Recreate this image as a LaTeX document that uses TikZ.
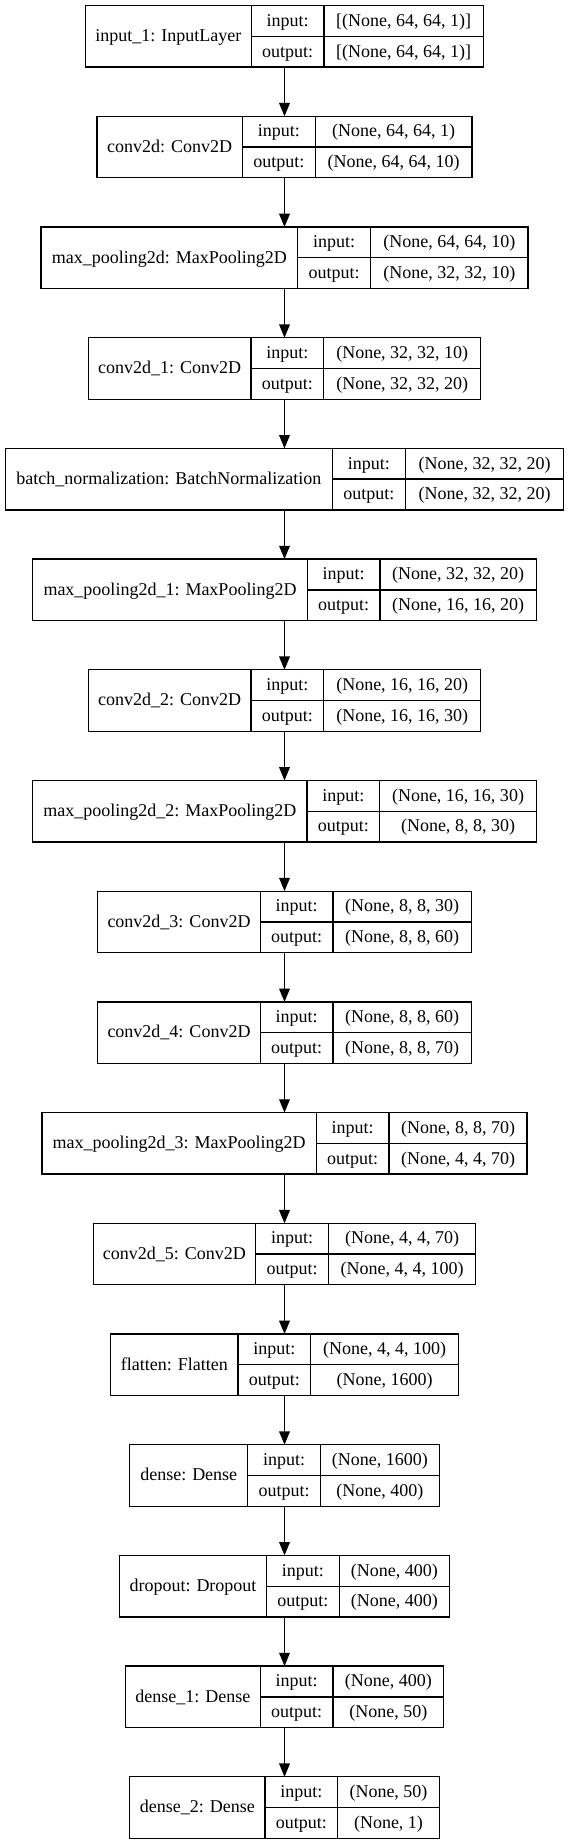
\documentclass[tikz,border=0pt]{standalone}
\usepackage{fontspec}
\setmainfont{Liberation Serif}
\usetikzlibrary{arrows.meta}
\tikzset{
  layerbox/.style={draw=black, line width=1pt, inner sep=0pt, outer sep=0pt, minimum height=46.125pt},
  cellline/.style={draw=black, line width=1pt},
  celltext/.style={inner sep=0pt, anchor=base, font=\fontsize{13.5}{16}\selectfont},
  flow/.style={draw=black, line width=1pt, -{Triangle[length=10pt,width=8pt]}}
}
% #1 id, #2 index, #3 half width (px), #4 first divider x (px), #5 name, #6 input, #7 output
\newcommand{\nnlayer}[7]{%
  \pgfmathsetmacro{\LYc}{5.6+#2*110.7+30.75}%
  \pgfmathsetmacro{\LXl}{284.5-#3}%
  \pgfmathsetmacro{\LXr}{284.5+#3}%
  \pgfmathsetmacro{\LDa}{#4}%
  \pgfmathsetmacro{\LDb}{#4+72.8}%
  \pgfmathsetmacro{\LWd}{2*#3*0.75}%
  \node[layerbox, minimum width=\LWd pt] (#1) at (284.5,\LYc) {};
  \draw[cellline] (\LDa,\LYc-30.75) -- (\LDa,\LYc+30.75);
  \draw[cellline] (\LDb,\LYc-30.75) -- (\LDb,\LYc+30.75);
  \draw[cellline] (\LDa,\LYc) -- (\LXr,\LYc);
  \node[celltext] (#1-name) at ({(\LXl+\LDa)/2},\LYc+5.3) {#5};
  \node[celltext] (#1-inl) at ({(\LDa+\LDb)/2},\LYc-15.4+5.3) {input:};
  \node[celltext] (#1-outl) at ({(\LDa+\LDb)/2},\LYc+15.4+5.3) {output:};
  \node[celltext] (#1-inv) at ({(\LDb+\LXr)/2},\LYc-15.4+5.3) {#6};
  \node[celltext] (#1-outv) at ({(\LDb+\LXr)/2},\LYc+15.4+5.3) {#7};
}
\begin{document}
\begin{tikzpicture}[x=0.75pt,y=-0.75pt]
\fill[white] (0,0) rectangle (569,1844);
\useasboundingbox (0,0) rectangle (569,1844);
\nnlayer{b1}{0}{198.9}{251.2}{input\_1: InputLayer}{[(None, 64, 64, 1)]}{[(None, 64, 64, 1)]}
\nnlayer{b2}{1}{187.6}{242.5}{conv2d: Conv2D}{(None, 64, 64, 1)}{(None, 64, 64, 10)}
\nnlayer{b3}{2}{243.5}{297.8}{max\_pooling2d: MaxPooling2D}{(None, 64, 64, 10)}{(None, 32, 32, 10)}
\nnlayer{b4}{3}{196.2}{251.0}{conv2d\_1: Conv2D}{(None, 32, 32, 10)}{(None, 32, 32, 20)}
\nnlayer{b5}{4}{279.2}{332.5}{batch\_normalization: BatchNormalization}{(None, 32, 32, 20)}{(None, 32, 32, 20)}
\nnlayer{b6}{5}{251.7}{307.2}{max\_pooling2d\_1: MaxPooling2D}{(None, 32, 32, 20)}{(None, 16, 16, 20)}
\nnlayer{b7}{6}{196.2}{251.0}{conv2d\_2: Conv2D}{(None, 16, 16, 20)}{(None, 16, 16, 30)}
\nnlayer{b8}{7}{251.7}{307.0}{max\_pooling2d\_2: MaxPooling2D}{(None, 16, 16, 30)}{(None, 8, 8, 30)}
\nnlayer{b9}{8}{186.8}{260.3}{conv2d\_3: Conv2D}{(None, 8, 8, 30)}{(None, 8, 8, 60)}
\nnlayer{b10}{9}{186.8}{260.3}{conv2d\_4: Conv2D}{(None, 8, 8, 60)}{(None, 8, 8, 70)}
\nnlayer{b11}{10}{242.5}{316.2}{max\_pooling2d\_3: MaxPooling2D}{(None, 8, 8, 70)}{(None, 4, 4, 70)}
\nnlayer{b12}{11}{191.3}{255.7}{conv2d\_5: Conv2D}{(None, 4, 4, 70)}{(None, 4, 4, 100)}
\nnlayer{b13}{12}{173.8}{238.0}{flatten: Flatten}{(None, 4, 4, 100)}{(None, 1600)}
\nnlayer{b14}{13}{154.7}{247.7}{dense: Dense}{(None, 1600)}{(None, 400)}
\nnlayer{b15}{14}{165.0}{266.5}{dropout: Dropout}{(None, 400)}{(None, 400)}
\nnlayer{b16}{15}{159.0}{260.3}{dense\_1: Dense}{(None, 400)}{(None, 50)}
\nnlayer{b17}{16}{154.7}{265.0}{dense\_2: Dense}{(None, 50)}{(None, 1)}
\foreach \a/\b in {b1/b2,b2/b3,b3/b4,b4/b5,b5/b6,b6/b7,b7/b8,b8/b9,b9/b10,b10/b11,b11/b12,b12/b13,b13/b14,b14/b15,b15/b16,b16/b17}
  \draw[flow] (\a.south) -- (\b.north);
\end{tikzpicture}
\end{document}
